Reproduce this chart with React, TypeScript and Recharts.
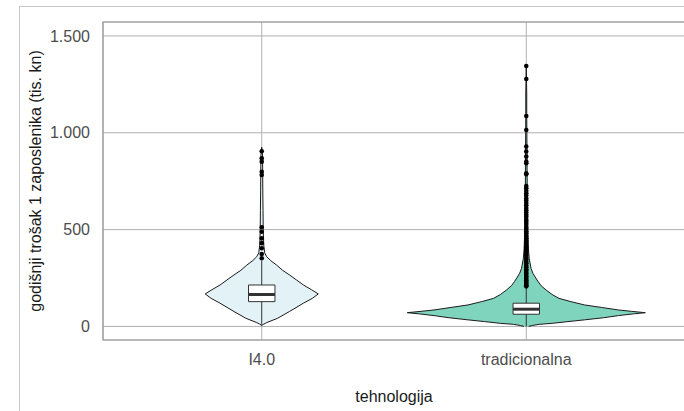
import React from 'react';
import {
  ComposedChart,
  Area,
  Line,
  Scatter,
  XAxis,
  YAxis,
  CartesianGrid,
  ReferenceArea,
  Label,
} from 'recharts';

// ---- data ----
const categories = ['I4.0', 'tradicionalna'];
const categoryPositions = [1, 2];
const yTicks = [0, 500, 1000, 1500];
const yTickLabels = ['0', '500', '1.000', '1.500'];

// violin density profiles (relative half-width, max = 1)
const i40Levels = [5, 12, 20, 42, 77, 120, 145, 168, 190, 214, 240, 266, 290, 317, 340, 360, 380, 420, 500, 600, 700, 800, 880, 925];
const i40Density = [0, 0.017, 0.042, 0.133, 0.233, 0.35, 0.425, 0.475, 0.417, 0.35, 0.292, 0.233, 0.175, 0.125, 0.075, 0.042, 0.025, 0.017, 0.0125, 0.011, 0.009, 0.008, 0.007, 0];

const tradLevels = [0, 5, 11, 16, 25, 34, 45, 56, 65, 71, 78, 85, 98, 111, 128, 145, 165, 188, 210, 231, 255, 275, 300, 350, 400, 500, 600, 700, 800, 900, 1000, 1100, 1200, 1345];
const tradDensity = [0.02, 0.05, 0.108, 0.217, 0.35, 0.49, 0.65, 0.775, 0.9, 1.0, 0.883, 0.775, 0.633, 0.49, 0.375, 0.275, 0.217, 0.167, 0.125, 0.1, 0.075, 0.055, 0.04, 0.025, 0.018, 0.012, 0.01, 0.008, 0.007, 0.006, 0.005, 0.004, 0.004, 0];

// box plot statistics [lower whisker, q1, median, q3, upper whisker]
const i40Box = [8, 128, 165, 214, 340];
const tradBox = [0, 63, 89, 120, 205];

// outliers
const i40Outliers = [352, 374, 404, 430, 455, 489, 512, 782, 799, 851, 868, 905];
const tradOutliers = [
  1345, 1278, 1087, 1014, 929, 903, 877, 851, 843, 791, 786, 725, 714, 700, 688, 676, 661, 650, 637, 626, 611,
  600, 588, 577, 566, 551, 540, 529, 514, 503, 491, 481, 467, 456, 444, 433, 421, 409, 399, 387, 377, 366, 354,
  346, 334, 326, 314, 306, 295, 288, 277, 271, 261, 255, 246, 239, 231, 225, 217, 212, 207,
];

// ---- styling ----
const MAX_HALF_WIDTH = 0.45;
const BOX_HALF_WIDTH = 0.05;
const FONT = '"Liberation Sans", Arial, sans-serif';
const fills = ['#E3F2F7', '#7FD4BD'];

const violinData = (levels: number[], density: number[], pos: number) =>
  levels.map((y, i) => ({ y, r: [pos - density[i] * MAX_HALF_WIDTH, pos + density[i] * MAX_HALF_WIDTH] }));

const boxFill = (b: number[], pos: number) => [
  { y: b[1], r: [pos - BOX_HALF_WIDTH, pos + BOX_HALF_WIDTH] },
  { y: b[3], r: [pos - BOX_HALF_WIDTH, pos + BOX_HALF_WIDTH] },
];
const boxOutline = (b: number[], pos: number) => [
  { x: pos - BOX_HALF_WIDTH, y: b[1] },
  { x: pos + BOX_HALF_WIDTH, y: b[1] },
  { x: pos + BOX_HALF_WIDTH, y: b[3] },
  { x: pos - BOX_HALF_WIDTH, y: b[3] },
  { x: pos - BOX_HALF_WIDTH, y: b[1] },
];
const medianLine = (b: number[], pos: number) => [
  { x: pos - BOX_HALF_WIDTH, y: b[2] },
  { x: pos + BOX_HALF_WIDTH, y: b[2] },
];
const lowerWhisker = (b: number[], pos: number) => [
  { x: pos, y: b[0] },
  { x: pos, y: b[1] },
];
const upperWhisker = (b: number[], pos: number) => [
  { x: pos, y: b[3] },
  { x: pos, y: b[4] },
];
const outlierData = (vals: number[], pos: number) => vals.map((y) => ({ x: pos, y }));

const violins = [
  violinData(i40Levels, i40Density, categoryPositions[0]),
  violinData(tradLevels, tradDensity, categoryPositions[1]),
];
const boxes = [i40Box, tradBox];
const outliers = [i40Outliers, tradOutliers];

const X_DOMAIN: [number, number] = [0.4, 2.6];
const Y_DOMAIN: [number, number] = [-70, 1572];

const Dot = (p: any) => <circle cx={p.cx} cy={p.cy} r={2.3} fill="#000" />;

export default function App() {
  return (
    <div
      style={{
        position: 'absolute',
        left: 0,
        top: 0,
        width: 684,
        height: 411,
        overflow: 'hidden',
        background: '#fff',
      }}
    >
      <div
        style={{
          position: 'absolute',
          left: 19,
          top: 6,
          width: 900,
          height: 600,
          border: '1.5px solid #c8c8c8',
        }}
      />
      <div style={{ position: 'absolute', left: 0, top: 0 }}>
        <ComposedChart
          width={700}
          height={411}
          layout="vertical"
          margin={{ top: 22, right: 15, bottom: 41, left: 0 }}
        >
          <CartesianGrid stroke="#b0b0b0" strokeWidth={1} />
          <XAxis
            type="number"
            dataKey="x"
            domain={X_DOMAIN}
            allowDataOverflow
            ticks={categoryPositions}
            tickFormatter={(v: number) => categories[categoryPositions.indexOf(v)] ?? ''}
            axisLine={false}
            tickLine={false}
            tickSize={0}
            tickMargin={14}
            height={30}
            tick={{ fill: '#4d4d4d', fontSize: 16, fontFamily: FONT }}
          >
            <Label
              content={(props: any) => {
                const vb = props.viewBox || { x: 103, y: 340, width: 582 };
                return (
                  <text
                    x={vb.x + vb.width / 2}
                    y={vb.y + 62}
                    textAnchor="middle"
                    fill="#1a1a1a"
                    fontSize={16}
                    fontFamily={FONT}
                  >
                    tehnologija
                  </text>
                );
              }}
            />
          </XAxis>
          <YAxis
            type="number"
            dataKey="y"
            reversed
            domain={Y_DOMAIN}
            allowDataOverflow
            ticks={yTicks}
            tickFormatter={(v: number) => yTickLabels[yTicks.indexOf(v)] ?? String(v)}
            axisLine={false}
            tickLine={false}
            tickSize={0}
            tickMargin={13}
            width={103}
            tick={{ fill: '#4d4d4d', fontSize: 16, fontFamily: FONT }}
          >
            <Label
              content={(props: any) => {
                const vb = props.viewBox || { x: 0, y: 22, height: 318 };
                const cx = vb.x + 40.5;
                const cy = vb.y + vb.height / 2;
                return (
                  <text
                    x={cx}
                    y={cy}
                    transform={`rotate(-90, ${cx}, ${cy})`}
                    textAnchor="middle"
                    fill="#1a1a1a"
                    fontSize={16}
                    fontFamily={FONT}
                  >
                    godišnji trošak 1 zaposlenika (tis. kn)
                  </text>
                );
              }}
            />
          </YAxis>

          {violins.map((d, i) => (
            <Area
              key={`violin-${i}`}
              data={d}
              dataKey="r"
              type="linear"
              fill={fills[i]}
              fillOpacity={1}
              stroke="#1a1a1a"
              strokeWidth={1}
              isAnimationActive={false}
              dot={false}
              activeDot={false}
            />
          ))}

          {boxes.map((b, i) => (
            <Line
              key={`lw-${i}`}
              data={lowerWhisker(b, categoryPositions[i])}
              dataKey="x"
              type="linear"
              stroke="#333"
              strokeWidth={1}
              dot={false}
              activeDot={false}
              isAnimationActive={false}
            />
          ))}
          {boxes.map((b, i) => (
            <Line
              key={`uw-${i}`}
              data={upperWhisker(b, categoryPositions[i])}
              dataKey="x"
              type="linear"
              stroke="#333"
              strokeWidth={1}
              dot={false}
              activeDot={false}
              isAnimationActive={false}
            />
          ))}
          {boxes.map((b, i) => (
            <Area
              key={`boxfill-${i}`}
              data={boxFill(b, categoryPositions[i])}
              dataKey="r"
              type="linear"
              fill="#ffffff"
              fillOpacity={1}
              stroke="none"
              isAnimationActive={false}
              dot={false}
              activeDot={false}
            />
          ))}
          {boxes.map((b, i) => (
            <Line
              key={`box-${i}`}
              data={boxOutline(b, categoryPositions[i])}
              dataKey="x"
              type="linear"
              stroke="#333"
              strokeWidth={1}
              dot={false}
              activeDot={false}
              isAnimationActive={false}
            />
          ))}
          {boxes.map((b, i) => (
            <Line
              key={`med-${i}`}
              data={medianLine(b, categoryPositions[i])}
              dataKey="x"
              type="linear"
              stroke="#333"
              strokeWidth={3}
              dot={false}
              activeDot={false}
              isAnimationActive={false}
            />
          ))}
          {outliers.map((o, i) => (
            <Scatter
              key={`out-${i}`}
              data={outlierData(o, categoryPositions[i])}
              fill="#000"
              shape={Dot}
              isAnimationActive={false}
            />
          ))}

          <ReferenceArea
            x1={X_DOMAIN[0]}
            x2={X_DOMAIN[1]}
            y1={Y_DOMAIN[0]}
            y2={Y_DOMAIN[1]}
            fill="none"
            stroke="#999"
            strokeWidth={1.2}
            ifOverflow="visible"
          />
        </ComposedChart>
      </div>
    </div>
  );
}
